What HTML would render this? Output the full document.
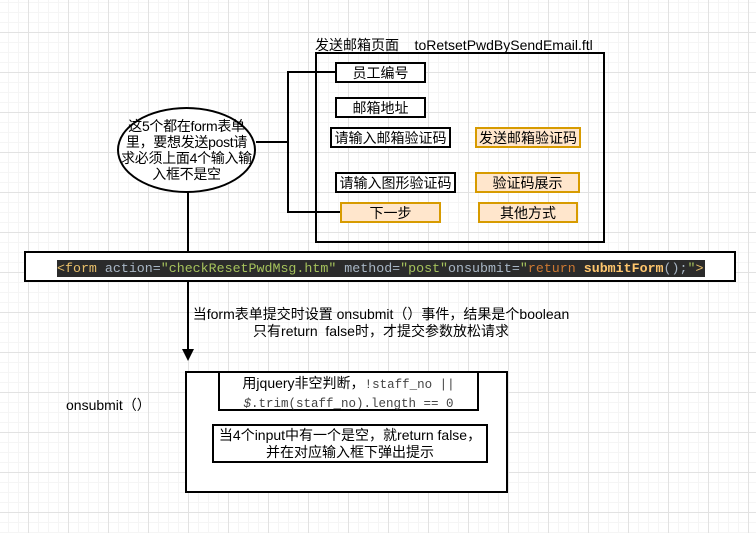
<!DOCTYPE html>
<html><head><meta charset="utf-8">
<style>
html,body{margin:0;padding:0}
body{width:756px;height:533px;position:relative;overflow:hidden;background-color:#fff;
background-image:
linear-gradient(to right,#e2e2e2 1px,transparent 1px),
linear-gradient(to bottom,#e2e2e2 1px,transparent 1px),
linear-gradient(to right,#f5f5f5 1px,transparent 1px),
linear-gradient(to bottom,#f5f5f5 1px,transparent 1px);
background-size:40px 40px,40px 40px,10px 10px,10px 10px;
background-position:28px 0,0 32px,28px 0,0 32px;
font-family:"Liberation Sans","Noto Sans CJK SC",sans-serif;font-size:14px;color:#000}
.b{position:absolute;box-sizing:border-box;border:2px solid #000;background:#fff;display:flex;align-items:center;justify-content:center;text-align:center;font-size:14px;line-height:16px}
.o{background:#ffe6cc;border-color:#d79b00}
.t{position:absolute;white-space:nowrap}
.mono{font-family:"Liberation Mono",monospace}
</style></head><body>
<svg width="756" height="533" style="position:absolute;left:0;top:0">
<polyline points="256,142 288,142" fill="none" stroke="#000" stroke-width="2"/>
<polyline points="335,72 288,72 288,212 340,212" fill="none" stroke="#000" stroke-width="2"/>
<line x1="188" y1="192" x2="188" y2="252" stroke="#000" stroke-width="2"/>
<line x1="188" y1="281" x2="188" y2="352" stroke="#000" stroke-width="2"/>
<polygon points="182,349 194,349 188,361" fill="#000"/>
</svg>
<div class="t" style="left:315px;top:35px;font-size:14px">发送邮箱页面&nbsp;&nbsp;&nbsp;&nbsp;toRetsetPwdBySendEmail.ftl</div>
<div class="b" style="left:315px;top:52px;width:290px;height:191px;background:transparent"></div>
<div class="b" style="left:335px;top:62px;width:91px;height:21px">员工编号</div>
<div class="b" style="left:335px;top:97px;width:91px;height:21px">邮箱地址</div>
<div class="b" style="left:330px;top:127px;width:121px;height:21px">请输入邮箱验证码</div>
<div class="b o" style="left:475px;top:127px;width:106px;height:21px">发送邮箱验证码</div>
<div class="b" style="left:335px;top:172px;width:121px;height:21px">请输入图形验证码</div>
<div class="b o" style="left:475px;top:172px;width:105px;height:21px">验证码展示</div>
<div class="b o" style="left:340px;top:202px;width:101px;height:21px">下一步</div>
<div class="b o" style="left:478px;top:202px;width:100px;height:21px">其他方式</div>
<div class="b" style="left:117px;top:107px;width:139px;height:86px;border-radius:50%;line-height:16px;padding:0 1px;letter-spacing:-0.3px">这5个都在form表单里，要想发送post请求必须上面4个输入输入框不是空</div>
<div class="b" style="left:24px;top:251px;width:712px;height:31px"></div>
<div class="t mono" style="left:57px;top:260px;width:648px;height:17px;background:#2b2b2b;font-size:13.3px;line-height:17px;color:#a9b7c6"><span style="color:#e8bf6a">&lt;form</span> action=<span style="color:#a5c25c">"checkResetPwdMsg.htm"</span> method=<span style="color:#a5c25c">"post"</span>onsubmit=<span style="color:#a5c25c">"</span><span style="color:#cc7832">return</span> <span style="color:#ffc66d;font-weight:bold">submitForm</span>();<span style="color:#a5c25c">"</span><span style="color:#e8bf6a">&gt;</span></div>
<div class="t" style="left:186px;top:306px;width:390px;text-align:center;line-height:17px">当form表单提交时设置 onsubmit（）事件，结果是个boolean<br>只有return&nbsp;&nbsp;false时，才提交参数放松请求</div>
<div class="t" style="left:66px;top:395px">onsubmit（）</div>
<div class="b" style="left:185px;top:371px;width:323px;height:122px"></div>
<div class="b" style="left:218px;top:371px;width:261px;height:40px;display:block;padding-top:2px;line-height:17px;white-space:nowrap">用jquery非空判断，<span class="mono" style="color:#444;font-size:12.5px">!staff_no ||</span><br><span class="mono" style="color:#444;font-size:12.5px"><i>$</i>.trim(staff_no).length == 0</span></div>
<div class="b" style="left:212px;top:424px;width:276px;height:39px;line-height:17px;white-space:nowrap">当4个input中有一个是空，就return false，<br>并在对应输入框下弹出提示</div>
</body></html>
